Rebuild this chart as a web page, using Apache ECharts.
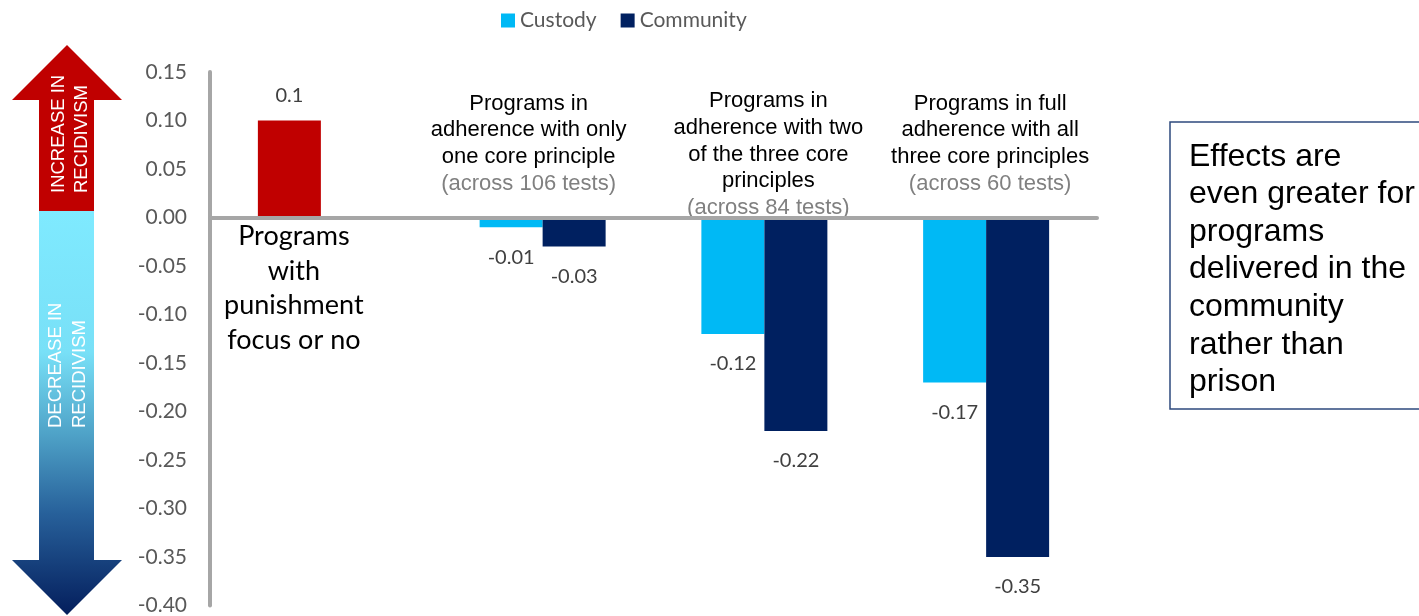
<!DOCTYPE html>
<html>
<head>
<meta charset="utf-8">
<style>
  html, body { margin: 0; padding: 0; background: #fff; }
  #chart { width: 1419px; height: 616px; }
</style>
<script src="https://cdn.jsdelivr.net/npm/echarts@6/dist/echarts.min.js"></script>
</head>
<body>
<div id="chart"></div>
<script>
// Program groups along the x axis
const categories = [
  'Programs with punishment focus or no',
  'Programs in adherence with only one core principle',
  'Programs in adherence with two of the three core principles',
  'Programs in full adherence with all three core principles'
];
// Wrapped heading lines for each group
const categoryLines = [
  ['Programs', 'with', 'punishment', 'focus or no'],
  ['Programs in', 'adherence with only', 'one core principle'],
  ['Programs in', 'adherence with two', 'of the three core', 'principles'],
  ['Programs in full', 'adherence with all', 'three core principles']
];
const testCounts = ['', '(across 106 tests)', '(across 84 tests)', '(across 60 tests)'];

// Effect on recidivism
const custody = [0.10, -0.01, -0.12, -0.17];
const community = [null, -0.03, -0.22, -0.35];

// Value axis
const yMin = -0.40, yMax = 0.15, yStep = 0.05;

const seriesNames = ['Custody', 'Community'];
const sideNote = ['Effects are', 'even greater for', 'programs', 'delivered in the', 'community', 'rather than', 'prison'];

const COL_CUSTODY = '#00B9F5';
const COL_COMMUNITY = '#002060';
const COL_PUNISH = '#C00000';
const AXIS_GREY = '#A6A6A6';
const LABEL_FONT = 'Lato';
const TEXT_FONT = 'Liberation Sans';

function dataLabel(v) {
  const neg = v < 0;
  return {
    show: true,
    position: neg ? 'bottom' : 'top',
    distance: neg ? 20 : 15,
    formatter: String(v),
    fontFamily: LABEL_FONT,
    fontSize: 20,
    color: '#404040'
  };
}

const custodyData = custody.map((v, i) => {
  const item = { value: v, label: dataLabel(v) };
  if (i === 0) item.itemStyle = { color: COL_PUNISH };
  return item;
});
const communityData = community.map(v => v == null ? null : { value: v, label: dataLabel(v) });

const chart = echarts.init(document.getElementById('chart'), null, { renderer: 'canvas' });

// Up / down arrow beside the value axis, plus the side note box
const arrowGraphics = [
  {
    id: 'arrowUp', type: 'polygon', z: 1,
    shape: { points: [[67, 45], [122, 100], [94, 100], [94, 211], [39, 211], [39, 100], [12, 100]] },
    style: { fill: COL_PUNISH }
  },
  {
    id: 'arrowDown', type: 'polygon', z: 1,
    shape: { points: [[39, 211], [94, 211], [94, 560], [122, 560], [67, 615], [12, 560], [39, 560]] },
    style: {
      fill: new echarts.graphic.LinearGradient(0, 0, 0, 1, [
        { offset: 0, color: '#7FEAFF' },
        { offset: 0.35, color: '#78E0F7' },
        { offset: 0.55, color: '#4FA3C8' },
        { offset: 0.75, color: '#27609A' },
        { offset: 1, color: '#041E5C' }
      ])
    }
  },
  {
    id: 'upText1', type: 'text', x: 59, y: 193, rotation: Math.PI / 2, z: 2,
    style: { text: 'INCREASE IN', font: '18.5px "Liberation Sans"', fill: '#fff', align: 'left', verticalAlign: 'middle' }
  },
  {
    id: 'upText2', type: 'text', x: 82, y: 193, rotation: Math.PI / 2, z: 2,
    style: { text: 'RECIDIVISM', font: '18.5px "Liberation Sans"', fill: '#fff', align: 'left', verticalAlign: 'middle' }
  },
  {
    id: 'downText1', type: 'text', x: 56, y: 428, rotation: Math.PI / 2, z: 2,
    style: { text: 'DECREASE IN', font: '18.5px "Liberation Sans"', fill: '#fff', align: 'left', verticalAlign: 'middle' }
  },
  {
    id: 'downText2', type: 'text', x: 80, y: 428, rotation: Math.PI / 2, z: 2,
    style: { text: 'RECIDIVISM', font: '18.5px "Liberation Sans"', fill: '#fff', align: 'left', verticalAlign: 'middle' }
  },
  {
    id: 'noteBox', type: 'rect', z: 1,
    shape: { x: 1170, y: 122, width: 260, height: 287 },
    style: { fill: 'none', stroke: '#2E4A7D', lineWidth: 1.5 }
  },
  {
    id: 'noteText', type: 'text', x: 1189, y: 138, z: 2,
    style: {
      text: sideNote.join('\n'),
      font: '32px "Liberation Sans"', lineHeight: 37.6, fill: '#000',
      align: 'left', verticalAlign: 'top'
    }
  }
];

const option = {
  animation: false,
  backgroundColor: '#fff',
  legend: {
    left: 496, top: 5,
    icon: 'rect', itemWidth: 14, itemHeight: 14, itemGap: 24,
    textStyle: { fontFamily: LABEL_FONT, fontSize: 21, color: '#595959' },
    data: seriesNames
  },
  grid: { left: 210, right: 322, top: 72, bottom: 10, containLabel: false },
  xAxis: {
    type: 'category',
    data: categories,
    z: 5,
    axisLine: { onZero: true, lineStyle: { color: AXIS_GREY, width: 4 } },
    axisTick: { show: false },
    axisLabel: { show: false },
    splitLine: { show: false }
  },
  yAxis: {
    type: 'value',
    min: yMin, max: yMax, interval: yStep,
    z: 5,
    axisLine: { show: true, lineStyle: { color: AXIS_GREY, width: 4 } },
    axisTick: { show: false },
    splitLine: { show: false },
    axisLabel: {
      margin: 23,
      fontFamily: LABEL_FONT, fontSize: 21, color: '#595959',
      formatter: v => v.toFixed(2)
    }
  },
  series: [
    {
      name: seriesNames[0], type: 'bar', data: custodyData,
      itemStyle: { color: COL_CUSTODY },
      barWidth: 63, barGap: '0%'
    },
    {
      name: seriesNames[1], type: 'bar', data: communityData,
      itemStyle: { color: COL_COMMUNITY },
      barWidth: 63, barGap: '0%'
    }
  ],
  graphic: arrowGraphics
};

chart.setOption(option);

// Group headings placed over each category using the axis scale
const headingShift = [-27, -14, 4, 4];
const headingTop = [219.5, 90.5, 88, 90.5];
const headings = categories.map((c, i) => {
  const cx = chart.convertToPixel({ xAxisIndex: 0 }, i) + headingShift[i];
  if (i === 0) {
    return {
      id: 'heading' + i, type: 'text', x: cx, y: headingTop[i], z: 0,
      style: {
        text: categoryLines[i].join('\n'),
        font: '27px Lato', lineHeight: 34.5, fill: '#000',
        align: 'center', verticalAlign: 'top'
      }
    };
  }
  const body = categoryLines[i].map(l => '{m|' + l + '}').join('\n') + '\n{g|' + testCounts[i] + '}';
  return {
    id: 'heading' + i, type: 'text', x: cx, y: headingTop[i], z: 0,
    style: {
      text: body,
      align: 'center', verticalAlign: 'top',
      rich: {
        m: { fontFamily: TEXT_FONT, fontSize: 22, lineHeight: 26.6, fill: '#000', align: 'center' },
        g: { fontFamily: TEXT_FONT, fontSize: 22, lineHeight: 26.6, fill: '#808080', align: 'center' }
      }
    }
  };
});
chart.setOption({ graphic: arrowGraphics.concat(headings) });
</script>
</body>
</html>
